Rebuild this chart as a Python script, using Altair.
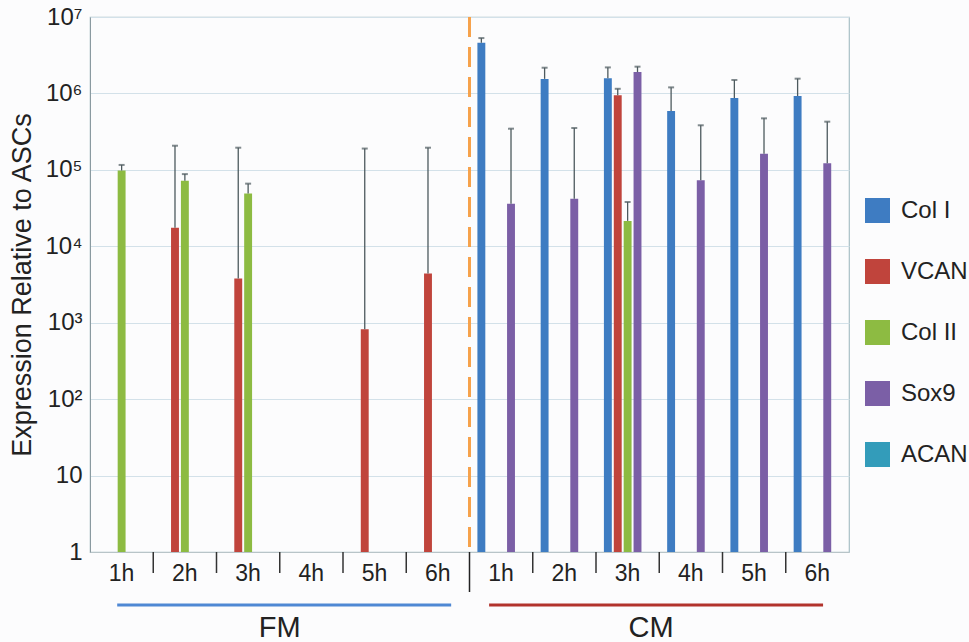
import altair as alt
import pandas as pd

groups = ["FM 1h", "FM 2h", "FM 3h", "FM 4h", "FM 5h", "FM 6h",
          "CM 1h", "CM 2h", "CM 3h", "CM 4h", "CM 5h", "CM 6h"]
series = ["Col I", "VCAN", "Col II", "Sox9", "ACAN"]
colors = ["#3e7cc2", "#c0443c", "#8dbb42", "#7b5fa6", "#339cba"]

N = None
col1_val = [N, N, N, N, N, N, 4.6e6, 1.55e6, 1.58e6, 5.9e5, 8.7e5, 9.25e5]
col1_err = [N, N, N, N, N, N, 5.3e6, 2.17e6, 2.19e6, 1.2e6, 1.5e6, 1.56e6]
vcan_val = [N, 1.75e4, 3.8e3, N, 820, 4.4e3, N, N, 9.5e5, N, N, N]
vcan_err = [N, 2.07e5, 1.95e5, N, 1.9e5, 1.95e5, N, N, 1.15e6, N, N, N]
col2_val = [9.8e4, 7.2e4, 4.9e4, N, N, N, N, N, 2.15e4, N, N, N]
col2_err = [1.16e5, 8.8e4, 6.6e4, N, N, N, N, N, 3.8e4, N, N, N]
sox9_val = [N, N, N, N, N, N, 3.6e4, 4.2e4, 1.9e6, 7.3e4, 1.63e5, 1.22e5]
sox9_err = [N, N, N, N, N, N, 3.46e5, 3.53e5, 2.24e6, 3.83e5, 4.72e5, 4.27e5]
acan_val = [N] * 12
acan_err = [N] * 12

y_ticks = [1, 10, 100, 1e3, 1e4, 1e5, 1e6, 1e7]
y_tick_labels = ["1", "10", "10²", "10³", "10⁴", "10⁵", "10⁶", "10⁷"]

rows = []
for s, vals, errs in zip(series,
                         [col1_val, vcan_val, col2_val, sox9_val, acan_val],
                         [col1_err, vcan_err, col2_err, sox9_err, acan_err]):
    for g, v, e in zip(groups, vals, errs):
        if v is not None:
            rows.append({"g": g, "s": s, "v": v, "e": e})
df = pd.DataFrame(rows)

W, H = 759, 535
FONT = "Liberation Sans"
TXT = "#222"

label_expr = " : ".join(
    f"datum.value == {t:g} ? '{l}'" for t, l in zip(y_ticks, y_tick_labels)
) + " : ''"

xscale = alt.Scale(domain=groups, paddingInner=0, paddingOuter=0)
yscale = alt.Scale(type="log", domain=[1, 1e7], nice=False)
xo = alt.XOffset("s:N", scale=alt.Scale(domain=series, paddingInner=0.2, paddingOuter=0.8))

x_enc = alt.X("g:N", scale=xscale, sort=groups,
              axis=alt.Axis(title=None, labelAngle=0, ticks=False, labelFontSize=23,
                            labelPadding=10, labelFont=FONT, labelColor=TXT,
                            domainColor="#b8c4c8",
                            labelExpr="split(datum.label, ' ')[1]"))

bars = alt.Chart(df).mark_bar().encode(
    x=x_enc,
    xOffset=xo,
    y=alt.Y("v:Q", scale=yscale,
            axis=alt.Axis(title="Expression Relative to ASCs", values=y_ticks,
                          labelExpr=label_expr, ticks=False, labelFontSize=24,
                          labelFont=FONT, labelColor=TXT, titleFont=FONT,
                          titleFontSize=27, titleFontWeight="normal", titleColor=TXT,
                          titlePadding=8, labelPadding=8, gridColor="#d3e1e9",
                          domainColor="#8a9aa0")),
    y2=alt.datum(1),
    color=alt.Color("s:N", scale=alt.Scale(domain=series, range=colors),
                    legend=alt.Legend(title=None, orient="none", legendX=775, legendY=181,
                                      symbolType="square", symbolSize=625,
                                      symbolStrokeWidth=0, labelFontSize=24,
                                      labelFont=FONT, labelColor=TXT,
                                      rowPadding=36, labelOffset=11)),
)

err_rule = alt.Chart(df).mark_rule(color="#4d5a5e", strokeWidth=1.3).encode(
    x=alt.X("g:N", scale=xscale, sort=groups), xOffset=xo,
    y=alt.Y("v:Q", scale=yscale), y2="e:Q")

err_cap = alt.Chart(df).mark_tick(color="#4d5a5e", orient="horizontal", size=6,
                                  thickness=2).encode(
    x=alt.X("g:N", scale=xscale, sort=groups), xOffset=xo,
    y=alt.Y("e:Q", scale=yscale))

sep_df = pd.DataFrame({"g": groups[1:6] + groups[7:]})
seps = alt.Chart(sep_df).mark_rule(color="#333", strokeWidth=1.5).encode(
    x=alt.X("g:N", scale=xscale, sort=groups, bandPosition=0),
    y=alt.value(H), y2=alt.value(H + 21))

mid_df = pd.DataFrame({"g": ["CM 1h"]})
mid_dash = alt.Chart(mid_df).mark_rule(color="#f6a24c", strokeWidth=3,
                                       strokeDash=[20, 10]).encode(
    x=alt.X("g:N", scale=xscale, sort=groups, bandPosition=0),
    y=alt.value(0), y2=alt.value(H))
mid_solid = alt.Chart(mid_df).mark_rule(color="#222", strokeWidth=1.5).encode(
    x=alt.X("g:N", scale=xscale, sort=groups, bandPosition=0),
    y=alt.value(H), y2=alt.value(H + 40))

fm_line_df = pd.DataFrame({"a": ["FM 1h"], "b": ["FM 6h"]})
cm_line_df = pd.DataFrame({"a": ["CM 1h"], "b": ["CM 6h"]})
fm_line = alt.Chart(fm_line_df).mark_rule(color="#4f88d4", strokeWidth=3).encode(
    x=alt.X("a:N", scale=xscale, sort=groups, bandPosition=0.43),
    x2=alt.X2("b", bandPosition=0.71),
    y=alt.value(H + 53))
cm_line = alt.Chart(cm_line_df).mark_rule(color="#b2332c", strokeWidth=3).encode(
    x=alt.X("a:N", scale=xscale, sort=groups, bandPosition=0.31),
    x2=alt.X2("b", bandPosition=0.59),
    y=alt.value(H + 53))

fm_txt = alt.Chart(pd.DataFrame({"g": ["FM 4h"], "t": ["FM"]})).mark_text(
    font=FONT, fontSize=29, color=TXT, baseline="middle").encode(
    x=alt.X("g:N", scale=xscale, sort=groups, bandPosition=0),
    y=alt.value(H + 76), text="t:N")
cm_txt = alt.Chart(pd.DataFrame({"g": ["CM 3h"], "t": ["CM"]})).mark_text(
    font=FONT, fontSize=29, color=TXT, baseline="middle").encode(
    x=alt.X("g:N", scale=xscale, sort=groups, bandPosition=0.87),
    y=alt.value(H + 76), text="t:N")

chart = alt.layer(bars, err_rule, err_cap, seps, mid_dash, mid_solid,
                  fm_line, cm_line, fm_txt, cm_txt).properties(
    width=W, height=H,
    autosize=alt.AutoSizeParams(type="none"),
    padding={"left": 90, "top": 17, "right": 120, "bottom": 90},
    background="#fcfcfd",
).configure_view(stroke="#a8bfc6", strokeWidth=1.2)

chart.save("out.html", embed_options={"renderer": "svg", "actions": False})
